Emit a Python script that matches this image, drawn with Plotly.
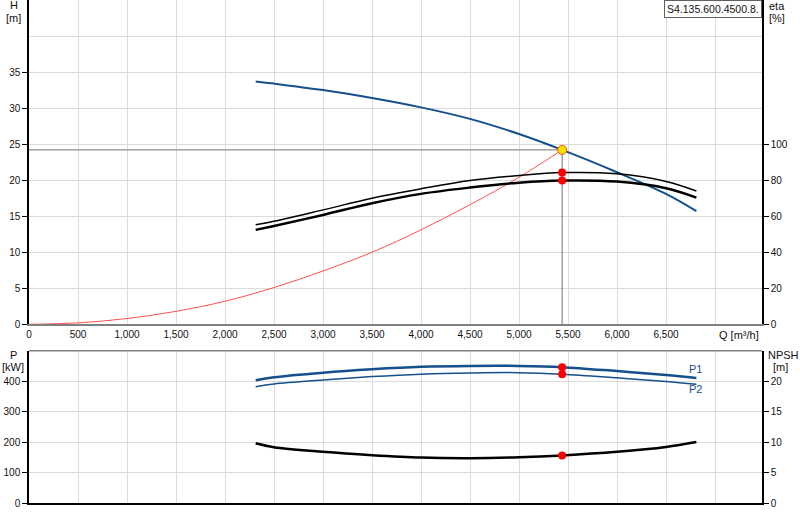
import plotly.graph_objects as go

# flow points where the pump curves were read (m3/h)
q_pts = [2313, 2500, 3000, 3500, 4000, 4500, 5000, 5440, 6000, 6500, 6810]
head = [33.7, 33.4, 32.5, 31.4, 30.1, 28.5, 26.4, 24.2, 21.1, 18.1, 15.7]
eta_1 = [55.2, 57.2, 63.5, 70.0, 75.2, 79.8, 82.6, 84.2, 83.5, 79.3, 74.0]
eta_2 = [52.4, 54.6, 60.7, 67.2, 72.4, 75.9, 78.6, 79.8, 79.2, 75.5, 70.3]
p1 = [403, 413, 428, 439, 447, 450, 450, 446, 433, 420, 410]
p2 = [382, 391, 404, 415, 423, 427, 428, 423, 411, 399, 390]
npsh = [9.8, 9.15, 8.4, 7.85, 7.45, 7.35, 7.5, 7.8, 8.4, 9.2, 10.0]

# system curve
q_sys = [0, 500, 1000, 1500, 2000, 2500, 3000, 3500, 4000, 4500, 5000, 5440]
h_sys = [0, 0.2, 0.8, 1.8, 3.2, 5.1, 7.4, 10.0, 13.1, 16.6, 20.4, 24.2]

# duty point
duty_q = 5440
duty_h = 24.2
duty_eta = [84.2, 79.8]
duty_p = [446, 423]
duty_npsh = 7.8

x_ticks = list(range(0, 7000, 500))
h_ticks = [0, 5, 10, 15, 20, 25, 30, 35]
eta_ticks = [0, 20, 40, 60, 80, 100]
p_ticks = [0, 100, 200, 300, 400]
npsh_ticks = [0, 5, 10, 15, 20]
pump_name = "S4.135.600.4500.8."

BLUE = "#14508c"
GRID = "#dcdcdc"
FONT = "Liberation Sans"

W, H = 800, 520
ML, MR, MT, MB = 29, 38, 0, 17


def px(x):
    return (x - ML) / (W - ML - MR)


def py(y):
    return (H - MB - y) / (H - MT - MB)


fig = go.Figure()

# ---- top plot: H / eta ----
fig.add_trace(go.Scatter(x=q_sys, y=h_sys, mode="lines", line=dict(color="rgba(255,50,50,0.85)", width=1),
                         line_shape="spline", xaxis="x", yaxis="y"))
fig.add_trace(go.Scatter(x=[0, duty_q, duty_q], y=[duty_h, duty_h, 0], mode="lines",
                         line=dict(color="#707070", width=1), xaxis="x", yaxis="y"))
fig.add_trace(go.Scatter(x=q_pts, y=eta_1, mode="lines", line=dict(color="black", width=1.5),
                         line_shape="spline", xaxis="x", yaxis="y2"))
fig.add_trace(go.Scatter(x=q_pts, y=eta_2, mode="lines", line=dict(color="black", width=2.5),
                         line_shape="spline", xaxis="x", yaxis="y2"))
fig.add_trace(go.Scatter(x=q_pts, y=head, mode="lines", line=dict(color=BLUE, width=2),
                         line_shape="spline", xaxis="x", yaxis="y"))
fig.add_trace(go.Scatter(x=[duty_q] * 2, y=duty_eta, mode="markers",
                         marker=dict(color="#ff0000", size=8), xaxis="x", yaxis="y2"))
fig.add_trace(go.Scatter(x=[duty_q], y=[duty_h], mode="markers",
                         marker=dict(color="#ffe000", size=9, line=dict(color="#ff5000", width=1)),
                         xaxis="x", yaxis="y"))

# ---- bottom plot: P / NPSH ----
fig.add_trace(go.Scatter(x=q_pts, y=p2, mode="lines", line=dict(color=BLUE, width=1.5),
                         line_shape="spline", xaxis="x2", yaxis="y3"))
fig.add_trace(go.Scatter(x=q_pts, y=p1, mode="lines", line=dict(color=BLUE, width=2.5),
                         line_shape="spline", xaxis="x2", yaxis="y3"))
fig.add_trace(go.Scatter(x=q_pts, y=npsh, mode="lines", line=dict(color="black", width=2.5),
                         line_shape="spline", xaxis="x2", yaxis="y4"))
fig.add_trace(go.Scatter(x=[duty_q] * 2, y=duty_p, mode="markers",
                         marker=dict(color="#ff0000", size=8), xaxis="x2", yaxis="y3"))
fig.add_trace(go.Scatter(x=[duty_q], y=[duty_npsh], mode="markers",
                         marker=dict(color="#ff0000", size=8), xaxis="x2", yaxis="y4"))

top_dom = [py(324.3), 1]
bot_dom = [0, py(350.7)]
x_range = [0, (W - ML - MR) / 0.098]
tickfont = dict(family=FONT, size=10, color="#111")

xcommon = dict(range=x_range, tickvals=x_ticks, showgrid=True, gridcolor=GRID, zeroline=False,
               automargin=False, tickfont=tickfont,
               minor=dict(dtick=500, tick0=0, showgrid=True, gridcolor=GRID))
ycommon = dict(zeroline=False, showline=True, linecolor="black", linewidth=1.5, automargin=False,
               ticks="outside", ticklen=5, tickcolor="black", tickfont=tickfont)

fig.update_layout(
    width=W, height=H, margin=dict(l=ML, r=MR, t=MT, b=MB, autoexpand=False),
    paper_bgcolor="white", plot_bgcolor="white", showlegend=False,
    font=dict(family=FONT, size=10, color="#111"),
    xaxis=dict(xcommon, domain=[0, 1], anchor="y", showline=True, linecolor="#808080", linewidth=2,
               mirror=True, ticktext=[f"{v:,}" for v in x_ticks], ticks=""),
    xaxis2=dict(xcommon, domain=[0, 1], anchor="y3", matches="x", showticklabels=False,
                showline=True, linecolor="black", linewidth=1.5, ticks=""),
    yaxis=dict(ycommon, domain=top_dom, anchor="x", range=[0, 45], tickvals=h_ticks,
               showgrid=True, gridcolor=GRID,
               minor=dict(dtick=5, tick0=0, showgrid=True, gridcolor=GRID)),
    yaxis2=dict(ycommon, overlaying="y", anchor="x", side="right", range=[0, 180],
                tickvals=eta_ticks, showgrid=False),
    yaxis3=dict(ycommon, domain=bot_dom, anchor="x2", range=[0, 500], tickvals=p_ticks,
                showgrid=True, gridcolor=GRID,
                minor=dict(dtick=100, tick0=0, showgrid=True, gridcolor=GRID)),
    yaxis4=dict(ycommon, overlaying="y3", anchor="x2", side="right", range=[0, 25],
                tickvals=npsh_ticks, showgrid=False),
    shapes=[dict(type="line", xref="paper", yref="paper", x0=0, x1=1, y0=bot_dom[1], y1=bot_dom[1],
                 line=dict(color="#808080", width=1.5))],
)


def label(text, x, y, anchor="center", color="#111", size=11):
    fig.add_annotation(text=text, x=px(x), y=py(y), xref="paper", yref="paper", xanchor=anchor,
                       yanchor="middle", showarrow=False, font=dict(family=FONT, size=size, color=color))


label("H", 14, 5)
label("[m]", 14, 18)
label("eta", 767, 6, anchor="left")
label("[%]", 767, 18, anchor="left")
label("Q [m³/h]", 739, 335)
label("P", 13, 355)
label("[kW]", 13, 367)
label("NPSH", 766, 355, anchor="left")
label("[m]", 771, 367, anchor="left")
label("P1", 695, 369, color=BLUE)
label("P2", 695, 389, color=BLUE)

fig.add_annotation(text=pump_name, x=1, y=1, xref="paper", yref="paper", xanchor="right", yanchor="top",
                   showarrow=False, bgcolor="white", bordercolor="#606060", borderwidth=1, borderpad=2,
                   font=dict(family=FONT, size=10.5, color="#111"))

# page body has an 8px default margin; drop it so the figure sits at the window corner
fig.write_html("out.html", config={"displayModeBar": False},
               post_script="document.body.style.margin='0';")
